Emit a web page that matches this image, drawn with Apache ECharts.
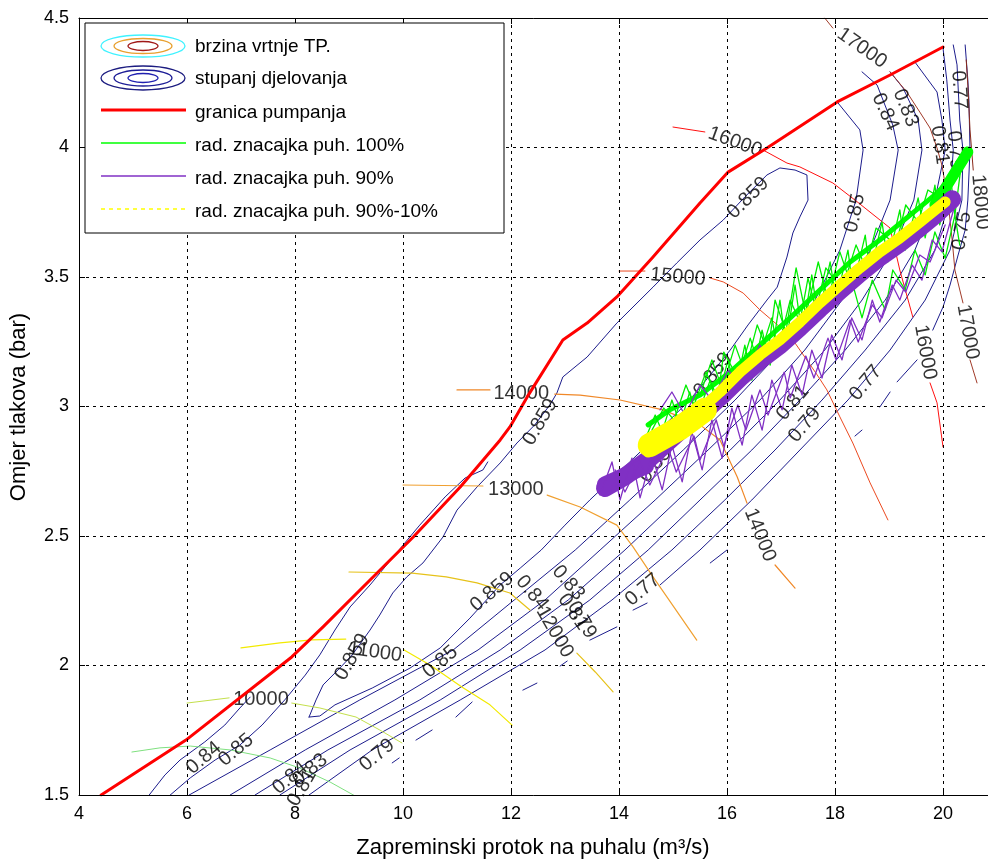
<!DOCTYPE html>
<html><head><meta charset="utf-8">
<script src="https://cdn.jsdelivr.net/npm/echarts@6/dist/echarts.min.js"></script>
<style>html,body{margin:0;padding:0;background:#fff}#c{width:988px;height:861px}</style>
</head><body><div id="c"></div>
<script>
// ---------- axes ----------
const xTicks = [4,6,8,10,12,14,16,18,20];
const yTicks = [1.5,2,2.5,3,3.5,4,4.5];
const xTitle = 'Zapreminski protok na puhalu (m³/s)';
const yTitle = 'Omjer tlakova (bar)';
const legendNames = ['brzina vrtnje TP.','stupanj djelovanja','granica pumpanja','rad. znacajka puh. 100%','rad. znacajka puh. 90%','rad. znacajka puh. 90%-10%'];

// ---------- surge line ----------
const surgeLine = [[4.41,1.50],[5.98,1.712],[7.94,2.033],[8.52,2.149],[9.52,2.357],[10.19,2.496],[11.06,2.689],[11.80,2.871],[11.98,2.921],[12.30,3.037],[12.96,3.257],[13.41,3.322],[13.96,3.423],[14.63,3.577],[15.50,3.786],[16.02,3.905],[16.74,3.998],[18.04,4.176],[19.02,4.280],[20.00,4.388]];

// ---------- speed contours (null = label gap) ----------
const speed9000 = [[4.98,1.666],[5.50,1.682],[6.06,1.689],[6.80,1.674],[7.54,1.643],[8.09,1.604],[8.65,1.550],[9.15,1.492]];
const speed10000 = [[6.00,1.855],[6.78,1.875],null,[7.94,1.855],[8.46,1.836],[9.13,1.801],[9.57,1.751],[9.98,1.701]];
const speed11000 = [[7.00,2.068],[7.72,2.087],[8.31,2.099],[8.94,2.102],null,[10.02,2.060],[10.50,2.002],[11.09,1.917],[11.61,1.848],[12.02,1.770]];
const speed12000 = [[9.00,2.361],[10.17,2.357],[10.80,2.342],[11.37,2.319],[11.98,2.280],[12.35,2.214],null,[13.22,2.048],[13.56,1.975],[13.89,1.898]];
const speed13000 = [[10.00,2.697],[11.48,2.693],null,[12.67,2.658],[13.28,2.612],[13.96,2.542],[14.26,2.458],[14.63,2.342],[14.89,2.264],[15.44,2.098]];
const speed14000 = [[11.00,3.064],[11.61,3.064],null,[12.81,3.048],[13.28,3.044],[14.02,3.025],[14.81,2.987],[15.50,2.929],[15.87,2.871],[16.19,2.728],[16.37,2.627],null,[16.89,2.388],[17.26,2.299]];
const speed15000 = [[14.00,3.523],[14.48,3.523],null,[15.69,3.496],[15.93,3.481],[16.30,3.438],[16.61,3.373],[16.98,3.307],[17.22,3.257],[17.67,3.122],[17.85,3.064],[18.09,2.960],[18.33,2.859],[18.65,2.705],[18.98,2.562]];
const speed16000 = [[15.00,4.079],[15.59,4.060],null,[16.67,3.990],[17.11,3.940],[17.35,3.925],[17.96,3.863],[18.37,3.797],[19.02,3.689],[19.20,3.527],[19.44,3.346],null,[19.76,3.091],[19.89,3.014],[20.00,2.844]];
const speed17000 = [[17.81,4.50],[17.96,4.461],null,[19.02,4.292],[19.33,4.214],[19.57,4.137],[19.76,4.075],[19.89,3.998],[19.98,3.932],[20.09,3.797],[20.17,3.643],[20.22,3.527],[20.37,3.400],null,[20.50,3.180],[20.63,3.091]];
const speed18000 = [[20.43,4.338],[20.46,4.241],[20.50,4.068],[20.56,3.913]];
const speedLabels = [[18.50,4.384,'17000'],[16.15,4.021,'16000'],[15.09,3.500,'15000'],[12.19,3.052,'14000'],[12.09,2.678,'13000'],[9.48,2.052,'11000'],[7.37,1.867,'10000'],[12.81,2.129,'12000'],[16.61,2.504,'14000'],[19.67,3.210,'16000'],[20.46,3.288,'17000'],[20.69,3.790,'18000']];
const speedLabelAngles = [-35,-20,-5,0,0,-8,0,-60,-68,-80,-80,-85];

// ---------- efficiency contours ----------
const eff0859 = [[8.26,1.801],[8.39,1.867],[8.52,1.925],[8.83,1.990],[9.06,2.041],[9.39,2.137],[9.57,2.195],[9.81,2.280],[10.07,2.342],[10.37,2.396],[10.74,2.496],[11.00,2.600],[11.37,2.689],[11.80,2.782],[12.11,2.859],[12.44,2.929],[12.72,3.006],[12.85,3.052],[12.96,3.114],[13.41,3.191],[13.96,3.322],[14.63,3.461],[15.07,3.554],[15.50,3.643],[15.93,3.720],[16.33,3.809],[16.74,3.894],[16.98,3.921],[17.26,3.913],[17.48,3.894],[17.50,3.797],[17.35,3.732],[17.22,3.670],[17.11,3.577],[16.93,3.461],[16.74,3.411],[16.39,3.315],[16.06,3.218],[15.69,3.122],[15.31,3.025],[14.85,2.929],[14.39,2.824],[13.93,2.732],[13.46,2.639],[13.00,2.542],[12.56,2.446],[12.17,2.376],[11.80,2.311],[11.24,2.183],[10.69,2.068],[10.13,1.990],[9.43,1.913],[8.74,1.848],[8.46,1.805],[8.26,1.801]];
const effS084 = [[5.30,1.500],[5.59,1.577],[5.87,1.635],[6.33,1.705],[6.70,1.770],[6.98,1.836],[7.17,1.878]];
const effS085 = [[5.69,1.500],[6.06,1.566],[6.52,1.635],[6.98,1.693],[7.39,1.770],[7.81,1.867],[8.19,1.963],[8.46,2.041],[8.74,2.137],[9.02,2.226],[9.39,2.311],[9.85,2.427],[10.31,2.542],[10.78,2.651],[11.15,2.724],[11.48,2.755],[11.57,2.786]];
const eff085 = [[6.04,1.500],[7.54,1.674],[9.20,1.867],[10.93,2.060],[12.06,2.253],[13.19,2.446],[14.20,2.639],[15.19,2.832],[16.15,3.025],[17.02,3.218],[17.63,3.411],[18.09,3.604],[18.39,3.797],[18.52,3.990],[18.46,4.068],[18.04,4.176]];
const eff084 = [[6.80,1.500],[8.19,1.674],[9.85,1.867],[11.39,2.060],[12.63,2.253],[13.65,2.446],[14.67,2.639],[15.65,2.832],[16.61,3.025],[17.44,3.218],[18.13,3.411],[18.65,3.604],[19.02,3.797],[19.17,3.990],[19.07,4.087],[18.78,4.241],[18.50,4.292]];
const eff083 = [[7.26,1.500],[8.61,1.674],[10.31,1.867],[11.80,2.060],[13.06,2.253],[14.11,2.446],[15.09,2.639],[16.06,2.832],[16.98,3.025],[17.81,3.218],[18.50,3.411],[19.07,3.604],[19.46,3.797],[19.61,3.990],[19.54,4.106],[19.26,4.230],[19.02,4.292]];
const eff081 = [[7.72,1.500],[9.02,1.674],[10.69,1.867],[12.17,2.060],[13.46,2.253],[14.54,2.446],[15.50,2.639],[16.46,2.832],[17.35,3.025],[18.19,3.218],[18.93,3.411],[19.48,3.604],[19.85,3.797],[20.04,3.990],[19.98,4.106],[19.89,4.214],[19.48,4.330]];
const eff079 = [[8.26,1.500],[9.43,1.674],[11.06,1.867],[12.63,2.060],[13.87,2.253],[14.98,2.446],[15.96,2.639],[16.89,2.832],[17.76,3.025],[18.56,3.218],[19.30,3.411],[19.85,3.604],[20.13,3.797],[20.19,3.990],[20.13,4.106],[20.07,4.261],[20.00,4.384]];
const eff077 = [[20.19,4.396],[20.26,4.319],[20.31,4.106],[20.37,3.990],[20.35,3.797],[20.13,3.604],[19.67,3.411],[19.02,3.218],[18.24,3.025],[17.35,2.832],[16.46,2.639],[15.50,2.446],[14.76,2.311],null,[14.52,2.241],[14.26,2.214],null,[13.96,2.149],[13.46,2.098],null,[13.04,2.017],[12.91,1.998],null,[12.48,1.932],[12.22,1.905],null,[11.28,1.859],[10.98,1.801],null,[10.54,1.751],[10.24,1.712],null,[9.93,1.643],[9.80,1.624]];
const eff075 = [[15.69,2.396],[16.00,2.446],null,[18.37,2.886],[18.50,2.909],null,[18.83,2.998],[19.02,3.056],null,[19.15,3.095],[19.52,3.180],null,[19.81,3.295],[20.00,3.384],[20.13,3.469],[20.28,3.585],[20.41,3.681],[20.46,3.797],[20.50,3.990],[20.48,4.183],[20.46,4.261],[20.41,4.396]];
const effLabels = [[12.54,2.940,'0.859'],[15.74,3.122,'0.859'],[11.65,2.284,'0.859'],[9.06,2.033,'0.859'],[16.39,3.805,'0.859'],[10.69,2.014,'0.85'],[18.37,3.747,'0.85'],[6.91,1.674,'0.85'],[6.31,1.643,'0.84'],[12.39,2.280,'0.84'],[18.93,4.137,'0.84'],[13.06,2.319,'0.83'],[19.31,4.153,'0.83'],[13.15,2.207,'0.81'],[17.22,3.014,'0.81'],[19.94,4.010,'0.81'],[13.31,2.176,'0.79'],[17.44,2.929,'0.79'],[9.52,1.654,'0.79'],[20.22,3.990,'0.79'],[14.44,2.292,'0.77'],[18.57,3.091,'0.77'],[20.30,4.222,'0.77'],[20.35,3.678,'0.75'],[7.91,1.566,'0.84'],[8.28,1.597,'0.83'],[8.13,1.527,'0.81'],[14.67,2.774,'0.85']];
const effLabelAngles = [60,52,40,60,45,40,78,40,40,-50,-65,-50,-68,-55,50,-82,-60,50,40,-85,40,50,-86,80,40,40,60,50];

// ---------- operating data (blower characteristics) ----------
const green100Core = [[14.54,2.929],[14.94,2.987],[15.50,3.044],[16.06,3.133],[16.61,3.237],[17.17,3.342],[17.72,3.450],[18.28,3.558],[18.83,3.643],[19.39,3.739],[19.85,3.817],[20.22,3.894],[20.44,3.971]];
const green100ZigA = [[14.48,2.871],[14.67,2.967],[14.80,2.902],[14.98,3.025],[15.13,2.929],[15.31,3.056],[15.44,2.956],[15.69,3.102],[15.80,3.006],[16.02,3.180],[16.15,3.056],[16.33,3.237],[16.46,3.102],[16.65,3.295],[16.80,3.160],[16.98,3.411],[17.09,3.237],[17.26,3.469],[17.39,3.276],[17.57,3.508],[17.69,3.342],[17.91,3.558],[18.02,3.411],[18.24,3.604],[18.33,3.458],[18.56,3.662],[18.65,3.508],[18.87,3.712],[18.98,3.558],[19.20,3.759],[19.30,3.604],[19.54,3.805],[19.67,3.651],[19.85,3.855],[19.94,3.701],[20.13,3.905],[20.22,3.739],[20.35,3.952],[20.46,3.990]];
const green100ZigB = [[18.09,3.411],[18.28,3.508],[18.50,3.342],[18.69,3.488],[18.93,3.373],[19.07,3.527],[19.30,3.450],[19.48,3.604],[19.67,3.508],[19.85,3.674],[20.04,3.573],[20.22,3.739],[20.31,3.623]];
const green100ZigC = [[14.61,2.909],[14.83,2.994],[15.02,2.948],[15.24,3.083],[15.39,3.006],[15.61,3.133],[15.83,3.033],[15.94,3.210],[16.20,3.110],[16.43,3.264],[16.57,3.172],[16.83,3.342],[16.94,3.218],[17.17,3.411],[17.35,3.326],[17.50,3.496],[17.65,3.373],[17.83,3.535],[18.13,3.450],[18.39,3.624],[18.57,3.535],[18.76,3.689],[19.13,3.624],[19.31,3.778],[19.54,3.712],[19.72,3.836],[20.02,3.797],[20.28,3.921]];
const green100ZigD = [[15.50,3.044],[15.72,3.180],[15.91,3.071],[16.15,3.237],[16.33,3.133],[16.56,3.315],[16.76,3.210],[16.89,3.411],[17.09,3.288],[17.28,3.535],[17.46,3.353],[17.69,3.558],[17.87,3.411],[18.09,3.597],[18.28,3.481]];
const green100Top = [[19.85,3.778],[20.46,3.983]];
const purple90Core = [[13.74,2.685],[14.11,2.730],[14.57,2.800],[15.13,2.905],[15.50,2.965],[15.87,3.035],[16.24,3.110],[16.61,3.178],[16.98,3.236],[17.35,3.305],[17.72,3.378],[18.09,3.447],[18.46,3.514],[18.83,3.576],[19.20,3.630],[19.57,3.690],[19.85,3.738],[20.17,3.800]];
const purple90Blob = [[13.74,2.700],[14.50,2.770]];
const purple90Zig = [[13.65,2.658],[13.87,2.786],[14.02,2.639],[14.24,2.801],[14.39,2.647],[14.61,2.813],[14.80,2.678],[14.98,2.851],[15.17,2.709],[15.35,2.902],[15.54,2.755],[15.72,2.948],[15.91,2.801],[16.09,2.994],[16.28,2.851],[16.46,3.044],[16.65,2.909],[16.83,3.102],[17.02,2.987],[17.20,3.160],[17.39,3.044],[17.57,3.218],[17.76,3.110],[17.94,3.276],[18.13,3.180],[18.31,3.342],[18.50,3.257],[18.69,3.411],[18.83,3.326],[19.06,3.469],[19.20,3.411],[19.43,3.546],[19.61,3.488],[19.80,3.643],[19.98,3.597],[20.22,3.778]];
const purple90Zig2 = [[13.93,2.755],[14.11,2.670],[14.39,2.786],[14.57,2.697],[14.91,2.840],[15.06,2.747],[15.39,2.886],[15.50,2.793],[15.80,2.948],[15.94,2.847],[16.20,3.006],[16.35,2.909],[16.61,3.064],[16.76,2.967],[17.06,3.133],[17.17,3.033],[17.46,3.195],[17.61,3.110],[17.87,3.264],[18.02,3.180],[18.28,3.334],[18.43,3.249],[18.69,3.392],[18.87,3.342],[19.13,3.488],[19.31,3.442],[19.57,3.585],[19.76,3.558],[20.04,3.701]];
const purple90Spikes = [[14.76,2.987],[14.98,3.056],[15.22,2.967],[15.50,3.083],[15.72,3.025],[16.02,3.141],[16.24,3.083],[16.61,3.237],[16.80,3.172]];
const yellowCore = [[14.54,2.824],[14.76,2.871],[15.13,2.929],[15.50,2.987],[15.87,3.056],[16.24,3.133],[16.61,3.199],[16.98,3.257],[17.35,3.326],[17.72,3.400],[18.09,3.469],[18.46,3.535],[18.83,3.597],[19.20,3.651],[19.57,3.712],[19.85,3.759],[20.04,3.790]];
const yellowBlob = [[14.57,2.851],[15.13,2.917],[15.59,2.987]];

// ---------- build ----------
const BLUE = '#1c1c8c';
const FONT = 'Liberation Sans, Arial, sans-serif';
function gap(d){ return d.map(p => p === null ? ['-','-'] : p); }
function ln(data, color, width, z, extra){
  return Object.assign({type:'line', data:gap(data), symbol:'none', silent:true, z:z,
    lineStyle:{color:color, width:width, cap:'round', join:'round'}, connectNulls:false, clip:true}, extra||{});
}
function labelSeries(arr, angles, z){
  return {type:'scatter', z:z, silent:true, symbolSize:1, itemStyle:{color:'rgba(0,0,0,0)'},
    data: arr.map((l,i)=>({value:[l[0],l[1]], name:l[2], label:{rotate:angles[i]}})),
    label:{show:true, position:'inside', formatter:'{b}', color:'#000', fontSize:20, fontFamily:FONT}};
}
const series = [];
[eff0859, effS084, effS085, eff085, eff084, eff083, eff081, eff079, eff077, eff075].forEach(d => series.push(ln(d, BLUE, 1, 2)));
series.push(ln(speed9000,'#7fe07f',1,2));
series.push(ln(speed10000,'#c4e04c',1,2));
series.push(ln(speed11000,'#f2ea00',1.2,2));
series.push(ln(speed12000,'#e6c21a',1.2,2));
series.push(ln(speed13000,'#f0a030',1.2,2));
series.push(ln(speed14000,'#f08828',1.2,2));
series.push(ln(speed15000,'#ec4a20',1,2));
series.push(ln(speed16000,'#ff1010',1,2));
series.push(ln(speed17000,'#a03a28',1,2));
series.push(ln(speed18000,'#8a2a1a',1,2));
series.push(labelSeries(effLabels, effLabelAngles, 3));
series.push(labelSeries(speedLabels, speedLabelAngles, 3));
series.push(ln(surgeLine,'#ff0000',3,4));
series.push(ln(green100Core,'#00ff00',5,5));
series.push(ln(green100ZigA,'#00ee00',1.3,5));
series.push(ln(green100ZigB,'#00ee00',1.3,5));
series.push(ln(green100ZigC,'#00ee00',1.3,5));
series.push(ln(green100ZigD,'#00ee00',1.3,5));
series.push(ln(green100Top,'#00ff00',11,5));
series.push(ln(purple90Core,'#8030c4',18,6));
series.push(ln(purple90Blob,'#8030c4',16,6));
series.push(ln(purple90Zig,'#8030c4',1.3,6));
series.push(ln(purple90Zig2,'#8030c4',1.3,6));
series.push(ln(purple90Spikes,'#8030c4',1.3,6));
series.push(ln(yellowCore,'#ffff00',11,7));
series.push(ln(yellowBlob,'#ffff00',24,7));

const axisCommon = {axisLine:{show:true, onZero:false, lineStyle:{color:'#000', width:1}},
  axisTick:{show:true, inside:true, length:6, lineStyle:{color:'#000'}}};
const rowY = [46, 78, 112, 145, 178, 211];
const legendGraphics = [
  {type:'rect', z:100, shape:{x:85,y:23,width:419,height:210}, style:{fill:'#fff', stroke:'#000', lineWidth:1}},
  {type:'ellipse', z:101, shape:{cx:143,cy:rowY[0],rx:42,ry:11}, style:{fill:'none', stroke:'#3ff2ff', lineWidth:1.3}},
  {type:'ellipse', z:101, shape:{cx:143,cy:rowY[0],rx:29,ry:7.5}, style:{fill:'none', stroke:'#e8a030', lineWidth:1.3}},
  {type:'ellipse', z:101, shape:{cx:143,cy:rowY[0],rx:15,ry:4.5}, style:{fill:'none', stroke:'#a01818', lineWidth:1.3}},
  {type:'ellipse', z:101, shape:{cx:143,cy:rowY[1],rx:42,ry:12}, style:{fill:'none', stroke:'#1c1c80', lineWidth:1.3}},
  {type:'ellipse', z:101, shape:{cx:143,cy:rowY[1],rx:29,ry:8}, style:{fill:'none', stroke:'#1c1c96', lineWidth:1.3}},
  {type:'ellipse', z:101, shape:{cx:143,cy:rowY[1],rx:15,ry:4.5}, style:{fill:'none', stroke:'#2020b0', lineWidth:1.3}},
  {type:'line', z:101, shape:{x1:101,y1:rowY[2]-2,x2:186,y2:rowY[2]-2}, style:{stroke:'#ff0000', lineWidth:3}},
  {type:'line', z:101, shape:{x1:101,y1:rowY[3]-2,x2:186,y2:rowY[3]-2}, style:{stroke:'#00ff00', lineWidth:1.5}},
  {type:'line', z:101, shape:{x1:101,y1:rowY[4]-2,x2:186,y2:rowY[4]-2}, style:{stroke:'#8030c4', lineWidth:1.5}},
  {type:'line', z:101, shape:{x1:101,y1:rowY[5]-2,x2:186,y2:rowY[5]-2}, style:{stroke:'#ffff00', lineWidth:1.5, lineDash:[4,4]}}
];
legendNames.forEach((n,i)=>legendGraphics.push({type:'text', z:101, x:195, y:rowY[i]+1,
  style:{text:n, fill:'#000', fontSize:19, fontFamily:FONT, textAlign:'left', align:'left', textVerticalAlign:'middle', verticalAlign:'middle'}}));
legendGraphics.push({type:'text', z:101, x:533, y:848, style:{text:xTitle, fill:'#000', fontSize:22, fontFamily:FONT, textAlign:'center', align:'center', textVerticalAlign:'middle', verticalAlign:'middle'}});
legendGraphics.push({type:'text', z:101, x:19, y:407, rotation:Math.PI/2, style:{text:yTitle, fill:'#000', fontSize:22, fontFamily:FONT, textAlign:'center', align:'center', textVerticalAlign:'middle', verticalAlign:'middle'}});

const option = {
  animation:false,
  backgroundColor:'#ffffff',
  grid:{left:79, top:18, width:918, height:777, show:false, containLabel:false, outerBoundsMode:'none'},
  xAxis:[
    Object.assign({type:'value', min:4, max:21, interval:2, position:'bottom', z:10,
      axisLabel:{color:'#000', fontSize:18, fontFamily:FONT, margin:10, formatter:v => xTicks.includes(v) ? String(v) : ''},
      splitLine:{show:true, lineStyle:{color:'#000', type:[3,4], width:1}}}, axisCommon),
    Object.assign({type:'value', min:4, max:21, interval:2, position:'top', z:10,
      axisLabel:{show:false}, splitLine:{show:false}}, axisCommon)
  ],
  yAxis:[
    Object.assign({type:'value', min:1.5, max:4.5, interval:0.5, z:10,
      axisLabel:{color:'#000', fontSize:18, fontFamily:FONT, margin:10, formatter:v => yTicks.includes(v) ? String(v) : ''},
      splitLine:{show:true, lineStyle:{color:'#000', type:[3,4], width:1}}}, axisCommon)
  ],
  series: series,
  graphic: legendGraphics
};
const chart = echarts.init(document.getElementById('c'), null, {renderer:'canvas'});
chart.setOption(option);
</script></body></html>
